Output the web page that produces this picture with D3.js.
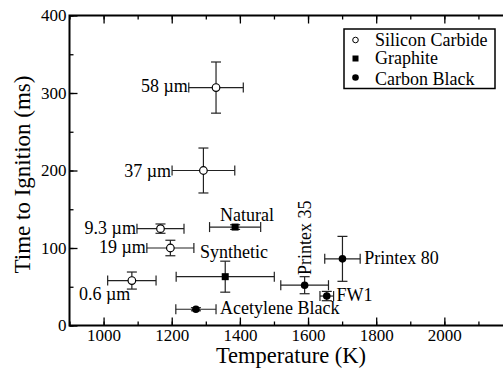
<!DOCTYPE html>
<html>
<head>
<meta charset="utf-8">
<script src="https://cdn.jsdelivr.net/npm/d3@7"></script>
<style>
  html, body { margin: 0; padding: 0; background: #fff; overflow: hidden; }
  svg { display: block; }
</style>
</head>
<body>
<svg id="chart" width="503" height="369"></svg>
<script>
// Ignition delay vs. particle temperature for three absorber families.
const siliconCarbideNames = ["58 µm", "37 µm", "9.3 µm", "19 µm", "0.6 µm"];
const siliconCarbideTemp  = [1330, 1293, 1167, 1196, 1083];
const siliconCarbideTErr  = [80, 92, 69, 69, 71];
const siliconCarbideTime  = [307, 200, 125, 100, 58];
const siliconCarbideYErr  = [33, 29, 6, 10, 11];

const graphiteNames = ["Natural", "Synthetic"];
const graphiteTemp  = [1386, 1357];
const graphiteTErr  = [75, 144];
const graphiteTime  = [127, 63];
const graphiteYErr  = [3, 20];

const carbonBlackNames = ["Acetylene Black", "Printex 35", "Printex 80", "FW1"];
const carbonBlackTemp  = [1271, 1590, 1701, 1655];
const carbonBlackTErr  = [59, 70, 52, 20];
const carbonBlackTime  = [21, 52, 86, 38];
const carbonBlackYErr  = [2, 11, 29, 6];

const legendLabels = ["Silicon Carbide", "Graphite", "Carbon Black"];
const xMajorTicks = [1000, 1200, 1400, 1600, 1800, 2000];
const yMajorTicks = [0, 100, 200, 300, 400];

const FONT = "'Liberation Serif', 'Times New Roman', Times, serif";
const svg = d3.select("#chart").attr("font-family", FONT);
const margin = { left: 69.5, top: 15.5, right: 512.5, bottom: 325.5 };

const x = d3.scaleLinear().domain([900, 2200]).range([margin.left, margin.right]);
const y = d3.scaleLinear().domain([0, 400]).range([margin.bottom, margin.top]);

// --- axes (ticks point into the plot) ---
const xMinor = d3.range(900, 2201, 100);
const yMinor = d3.range(0, 401, 50);

function styleAxis(g) {
  g.attr("font-family", FONT);
  g.select(".domain").remove();
  g.selectAll("line").attr("stroke", "#000").attr("stroke-width", 1.3);
  g.selectAll("text").attr("fill", "#000").attr("font-size", 17).attr("font-family", FONT);
}

svg.append("g").attr("transform", `translate(0,${margin.bottom})`)
  .call(d3.axisBottom(x).tickValues(xMinor).tickSize(-4).tickFormat(""))
  .call(styleAxis);
svg.append("g").attr("transform", `translate(0,${margin.bottom})`)
  .call(d3.axisBottom(x).tickValues(xMajorTicks).tickSize(-8).tickFormat(d3.format("d")))
  .call(styleAxis)
  .selectAll("text").attr("dy", null).attr("y", 15.5);

svg.append("g").attr("transform", `translate(0,${margin.top})`)
  .call(d3.axisTop(x).tickValues(xMinor).tickSize(-4).tickFormat(""))
  .call(styleAxis);
svg.append("g").attr("transform", `translate(0,${margin.top})`)
  .call(d3.axisTop(x).tickValues(xMajorTicks.concat([2200])).tickSize(-8).tickFormat(""))
  .call(styleAxis);

svg.append("g").attr("transform", `translate(${margin.left},0)`)
  .call(d3.axisLeft(y).tickValues(yMinor).tickSize(-4).tickFormat(""))
  .call(styleAxis);
svg.append("g").attr("transform", `translate(${margin.left},0)`)
  .call(d3.axisLeft(y).tickValues(yMajorTicks).tickSize(-8).tickFormat(d3.format("d")))
  .call(styleAxis)
  .selectAll("text").attr("x", -3);

// plot frame
svg.append("rect")
  .attr("x", margin.left).attr("y", margin.top)
  .attr("width", margin.right - margin.left).attr("height", margin.bottom - margin.top)
  .attr("fill", "none").attr("stroke", "#000").attr("stroke-width", 2);

// axis titles
svg.append("text")
  .attr("x", (margin.left + margin.right) / 2).attr("y", 362.5)
  .attr("text-anchor", "middle").attr("font-size", 22.5).attr("fill", "#000")
  .text("Temperature (K)");
svg.append("text")
  .attr("transform", `translate(30,${(margin.top + margin.bottom) / 2 + 4}) rotate(-90)`)
  .attr("text-anchor", "middle").attr("font-size", 23).attr("fill", "#000")
  .text("Time to Ignition (ms)");

// --- data ---
function rows(names, t, te, v, ve) {
  return names.map((n, i) => ({ name: n, t: t[i], te: te[i], v: v[i], ve: ve[i] }));
}
const sic = rows(siliconCarbideNames, siliconCarbideTemp, siliconCarbideTErr, siliconCarbideTime, siliconCarbideYErr);
const gra = rows(graphiteNames, graphiteTemp, graphiteTErr, graphiteTime, graphiteYErr);
const cb  = rows(carbonBlackNames, carbonBlackTemp, carbonBlackTErr, carbonBlackTime, carbonBlackYErr);
const all = sic.concat(gra, cb);

const cap = 5;
const eb = svg.append("g").attr("stroke", "#222").attr("stroke-width", 1.2).attr("fill", "none");
all.forEach(d => {
  const cx = x(d.t), cy = y(d.v);
  const x0 = x(d.t - d.te), x1 = x(d.t + d.te);
  const y0 = y(d.v - d.ve), y1 = y(d.v + d.ve);
  eb.append("line").attr("x1", x0).attr("x2", x1).attr("y1", cy).attr("y2", cy);
  eb.append("line").attr("x1", x0).attr("x2", x0).attr("y1", cy - cap).attr("y2", cy + cap);
  eb.append("line").attr("x1", x1).attr("x2", x1).attr("y1", cy - cap).attr("y2", cy + cap);
  eb.append("line").attr("x1", cx).attr("x2", cx).attr("y1", y0).attr("y2", y1);
  eb.append("line").attr("x1", cx - cap).attr("x2", cx + cap).attr("y1", y0).attr("y2", y0);
  eb.append("line").attr("x1", cx - cap).attr("x2", cx + cap).attr("y1", y1).attr("y2", y1);
});

svg.append("g").selectAll("circle").data(sic).join("circle")
  .attr("cx", d => x(d.t)).attr("cy", d => y(d.v)).attr("r", 3.8)
  .attr("fill", "#fff").attr("stroke", "#000").attr("stroke-width", 1.2);
svg.append("g").selectAll("rect").data(gra).join("rect")
  .attr("x", d => x(d.t) - 3.5).attr("y", d => y(d.v) - 3.5).attr("width", 7).attr("height", 7)
  .attr("fill", "#000");
svg.append("g").selectAll("circle").data(cb).join("circle")
  .attr("cx", d => x(d.t)).attr("cy", d => y(d.v)).attr("r", 3.8)
  .attr("fill", "#000");

// --- point annotations ---
const labelFont = 18;
function note(txt, px, py, anchor, rotate) {
  const t = svg.append("text").attr("font-size", labelFont).attr("fill", "#000")
    .attr("font-family", FONT).attr("text-anchor", anchor || "start").text(txt);
  if (rotate) t.attr("transform", `translate(${px},${py}) rotate(-90)`);
  else t.attr("x", px).attr("y", py);
}
// silicon carbide sizes sit to the left of their bars
note(sic[0].name, x(sic[0].t - sic[0].te) - 1, 92, "end");
note(sic[1].name, x(sic[1].t - sic[1].te) - 1, 176.5, "end");
note(sic[2].name, x(sic[2].t - sic[2].te) - 1, 233.5, "end");
note(sic[3].name, x(sic[3].t - sic[3].te) - 1, 252.5, "end");
note(sic[4].name, 79, 300, "start");
note(gra[0].name, 220, 220.5);
note(gra[1].name, 200, 257.5);
note(cb[0].name, x(cb[0].t + cb[0].te) + 4, 314);
note(cb[1].name, 310.5, 275, "start", true);
note(cb[2].name, x(cb[2].t + cb[2].te) + 4, 264);
note(cb[3].name, x(cb[3].t + cb[3].te) + 3, 300.5);

// --- legend ---
const lg = svg.append("g");
lg.append("rect").attr("x", 344).attr("y", 29).attr("width", 151).attr("height", 59.5)
  .attr("fill", "#fff").attr("stroke", "#000").attr("stroke-width", 1.5);
const rowY = [40, 58.5, 77.5];
lg.append("circle").attr("cx", 355.5).attr("cy", rowY[0]).attr("r", 2.8)
  .attr("fill", "#fff").attr("stroke", "#000").attr("stroke-width", 1);
lg.append("rect").attr("x", 352.5).attr("y", rowY[1] - 3).attr("width", 6).attr("height", 6).attr("fill", "#000");
lg.append("circle").attr("cx", 355.5).attr("cy", rowY[2]).attr("r", 3.3).attr("fill", "#000");
lg.selectAll("text.lbl").data(legendLabels).join("text").attr("class", "lbl")
  .attr("x", 375).attr("y", (d, i) => rowY[i] + [5.5, 5.5, 7][i])
  .attr("font-family", FONT).attr("font-size", 18).attr("fill", "#000").text(d => d);
</script>
</body>
</html>
